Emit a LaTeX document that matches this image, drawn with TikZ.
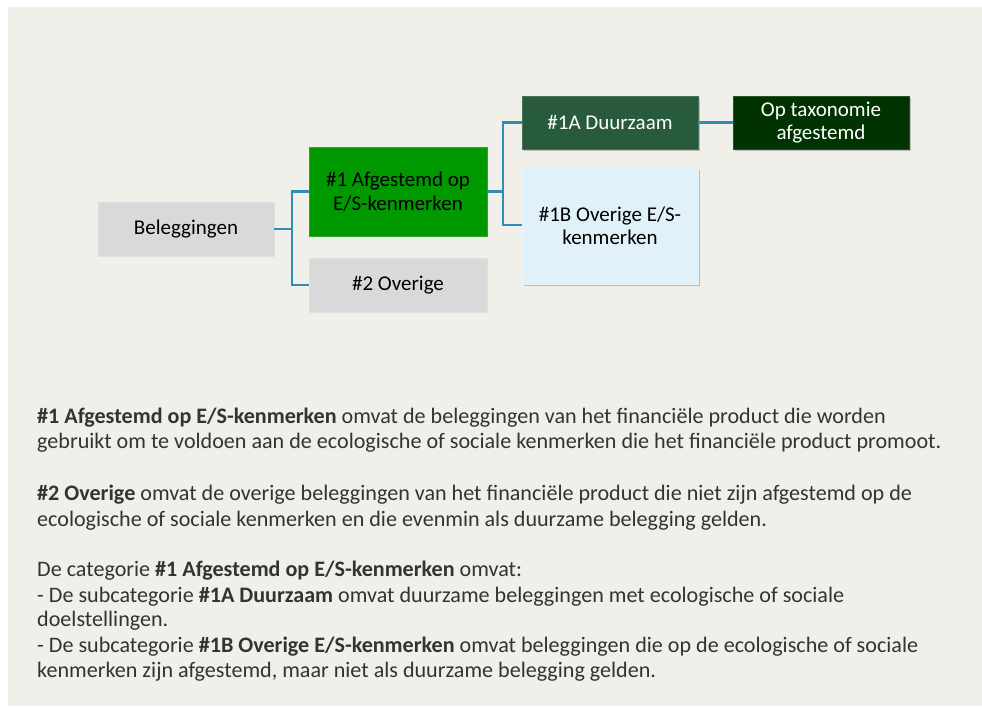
\documentclass[tikz,border=0pt]{standalone}
\usepackage{fontspec}
\setmainfont{Carlito}
\usetikzlibrary{shadows}
\definecolor{panel}{HTML}{F0EFEA}
\definecolor{boxgray}{HTML}{D9D9D9}
\definecolor{boxgreen}{HTML}{009900}
\definecolor{darkgreen}{HTML}{285A3C}
\definecolor{deepgreen}{HTML}{003300}
\definecolor{lightblue}{HTML}{E1F1FA}
\definecolor{linkblue}{HTML}{2E8FB5}
\definecolor{bodytext}{HTML}{333333}
\begin{document}
\begin{tikzpicture}[x=1pt,y=-1pt,
  catbox/.style={draw=#1!85!white, line width=0.6pt, inner sep=0pt, align=center,
    font=\fontsize{21}{23.5}\selectfont},
  shadowed/.style={drop shadow={shadow xshift=1.5pt, shadow yshift=-2pt, fill=black, opacity=0.22}},
  link/.style={draw=linkblue, line width=2.4pt},
  line/.style={anchor=base west, inner sep=0pt, text=bodytext, font=\fontsize{22.1}{26}\selectfont}
]
\useasboundingbox (0,0) rectangle (982,708);
\fill[white] (0,0) rectangle (982,708);
\fill[panel] (8,7) rectangle (982,706);

% boxes
\node[catbox=boxgray, fill=boxgray, minimum width=176pt, minimum height=54pt] (bel) at (186,229) {Beleggingen};
\node[catbox=boxgreen, fill=boxgreen, minimum width=178pt, minimum height=89pt] (af) at (398,191.5) {\#1 Afgestemd op\\E/S-kenmerken};
\node[catbox=boxgray, fill=boxgray, minimum width=178pt, minimum height=54pt] (ov) at (398,285) {\#2 Overige};
\node[catbox=darkgreen, fill=darkgreen, text=white, shadowed, minimum width=176pt, minimum height=53pt] (du) at (610,122.5) {\#1A Duurzaam};
\node[catbox=deepgreen, fill=deepgreen, text=white, shadowed, minimum width=176pt, minimum height=53pt] (tax) at (821,122.5) {Op taxonomie\\afgestemd};
\node[catbox=lightblue, fill=lightblue, shadowed, minimum width=176pt, minimum height=116pt] (ob) at (610,226) {\#1B Overige E/S-\\kenmerken};

% connectors
\coordinate (j1) at (292,229);
\coordinate (j2) at (503,191.5);
\draw[link] (bel.east) -- (j1) |- (af.west);
\draw[link] (j1) |- (ov.west);
\draw[link] (af.east) -- (j2) |- (du.west);
\draw[link] (j2) |- ([yshift=1pt]ob.west);
\draw[link] (du.east) -- (tax.west);

% explanatory text
\node[line] (t1) at (37,423) {\textbf{\#1 Afgestemd op E/S-kenmerken} omvat de beleggingen van het financiële product die worden};
\node[line] (t2) at (37,448) {gebruikt om te voldoen aan de ecologische of sociale kenmerken die het financiële product promoot.};
\node[line] (t3) at (37,500) {\textbf{\#2 Overige} omvat de overige beleggingen van het financiële product die niet zijn afgestemd op de};
\node[line] (t4) at (37,526) {ecologische of sociale kenmerken en die evenmin als duurzame belegging gelden.};
\node[line] (t5) at (37,576) {De categorie \textbf{\#1 Afgestemd op E/S-kenmerken} omvat:};
\node[line] (t6) at (37,602) {- De subcategorie \textbf{\#1A Duurzaam} omvat duurzame beleggingen met ecologische of sociale};
\node[line] (t7) at (37,626) {doelstellingen.};
\node[line] (t8) at (37,652) {- De subcategorie \textbf{\#1B Overige E/S-kenmerken} omvat beleggingen die op de ecologische of sociale};
\node[line] (t9) at (37,677) {kenmerken zijn afgestemd, maar niet als duurzame belegging gelden.};
\end{tikzpicture}
\end{document}
